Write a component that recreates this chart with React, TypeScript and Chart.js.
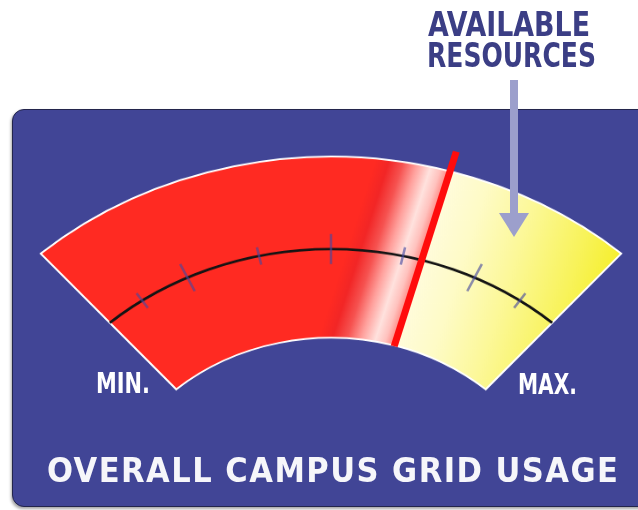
import React, { useEffect, useRef } from 'react';
import { Chart, registerables } from 'chart.js';

Chart.register(...registerables);

// ---- data ----
const categories = ['Used', 'Available'];
const usageValues = [69, 31];
const tickValues = [8.5, 19.3, 35, 50, 65, 80.7, 91.5];
const majorTicks = [false, true, false, true, false, true, false];
const minLabel = 'MIN.';
const maxLabel = 'MAX.';
const titleText = 'OVERALL CAMPUS GRID USAGE';
const calloutLines = ['AVAILABLE', 'RESOURCES'];

// ---- style constants ----
const Y_SCALE = 0.882;
const HALF_ANGLE = 41.4;
const CANVAS_W = 638;
const CANVAS_H = 324;
const CANVAS_TOP = 130;
const BOX_BLUE = '#414596';

function geom(chart: any) {
  const ca = chart.chartArea;
  const ctrl: any = chart.getDatasetMeta(0).controller;
  if (!ca || !ctrl || !isFinite(ctrl.outerRadius) || !isFinite(ctrl.offsetY)) return null;
  const cx = (ca.left + ca.right) / 2 + ctrl.offsetX;
  const cy = (ca.top + ca.bottom) / 2 + ctrl.offsetY;
  const R = ctrl.outerRadius;
  const r = ctrl.innerRadius;
  const a0 = ((-HALF_ANGLE - 90) * Math.PI) / 180;
  const a1 = ((HALF_ANGLE - 90) * Math.PI) / 180;
  const total = usageValues.reduce((s, v) => s + v, 0);
  const angleOf = (v: number) => a0 + (v / total) * (a1 - a0);
  const needle = angleOf(usageValues[0]);
  return { cx, cy, R, r, a0, a1, angleOf, needle };
}

function fillFor(context: any) {
  const chart = context.chart;
  const idx = context.dataIndex;
  const g = geom(chart);
  if (!g) return idx === 0 ? '#ff2a22' : '#fbf7a0';
  const c = chart.ctx as CanvasRenderingContext2D;
  const a = g.needle;
  const ux = -Math.sin(a);
  const uy = Math.cos(a);
  const rm = (g.R + g.r) / 2;
  const mx = g.cx + rm * Math.cos(a);
  const my = g.cy + rm * Math.sin(a);
  if (idx === 0) {
    const grad = c.createLinearGradient(mx - 90 * ux, my - 90 * uy, mx + 5 * ux, my + 5 * uy);
    grad.addColorStop(0, '#ff2a22');
    grad.addColorStop(0.158, '#ff2a22');
    grad.addColorStop(0.295, '#f22626');
    grad.addColorStop(0.442, '#f65250');
    grad.addColorStop(0.589, '#ffa09c');
    grad.addColorStop(0.737, '#ffe2de');
    grad.addColorStop(0.842, '#ffc2be');
    grad.addColorStop(0.947, '#ff7e78');
    grad.addColorStop(1, '#ff6e68');
    return grad;
  }
  const grad = c.createLinearGradient(mx, my, mx + 200 * ux, my + 200 * uy);
  grad.addColorStop(0, '#fffcdc');
  grad.addColorStop(0.2, '#fefbc6');
  grad.addColorStop(0.45, '#fcf898');
  grad.addColorStop(0.75, '#f8f35a');
  grad.addColorStop(1, '#f5ee22');
  return grad;
}

const gaugeMarks = {
  id: 'gaugeMarks',
  afterDatasetsDraw(chart: any) {
    const g = geom(chart);
    if (!g) return;
    const c = chart.ctx as CanvasRenderingContext2D;
    c.save();
    const rs = g.r + (g.R - g.r) * 0.49;
    // scale arc
    c.beginPath();
    c.arc(g.cx, g.cy, rs, g.a0, g.a1);
    c.strokeStyle = '#141414';
    c.lineWidth = 2.8;
    c.stroke();
    // ticks
    tickValues.forEach((v, i) => {
      const a = g.angleOf(v);
      const half = majorTicks[i] ? 17 : 10;
      c.beginPath();
      c.moveTo(g.cx + (rs - half) * Math.cos(a), g.cy + (rs - half) * Math.sin(a));
      c.lineTo(g.cx + (rs + half) * Math.cos(a), g.cy + (rs + half) * Math.sin(a));
      c.strokeStyle = 'rgba(70,72,160,0.62)';
      c.lineWidth = 2.5;
      c.stroke();
    });
    // needle
    const a = g.needle;
    c.beginPath();
    c.moveTo(g.cx + (g.r - 1) * Math.cos(a), g.cy + (g.r - 1) * Math.sin(a));
    c.lineTo(g.cx + (g.R + 23) * Math.cos(a), g.cy + (g.R + 23) * Math.sin(a));
    c.strokeStyle = '#ff0c0c';
    c.lineWidth = 7;
    c.lineCap = 'butt';
    c.stroke();
    c.restore();
  },
};

export default function App() {
  const canvasRef = useRef<HTMLCanvasElement | null>(null);

  useEffect(() => {
    if (!canvasRef.current) return;
    const chart = new Chart(canvasRef.current, {
      type: 'doughnut',
      data: {
        labels: categories,
        datasets: [
          {
            data: usageValues,
            backgroundColor: fillFor as any,
            borderColor: '#ffffff',
            borderWidth: 2,
            borderJoinStyle: 'miter',
          } as any,
        ],
      },
      options: {
        responsive: false,
        maintainAspectRatio: false,
        animation: false,
        events: [],
        rotation: -HALF_ANGLE,
        circumference: HALF_ANGLE * 2,
        radius: 439,
        cutout: '53.3%',
        layout: { padding: { left: 24, right: 0, top: 0, bottom: 0 } },
        plugins: {
          legend: { display: false },
          tooltip: { enabled: false },
          title: { display: false },
        },
      } as any,
      plugins: [gaugeMarks],
    });
    return () => chart.destroy();
  }, []);

  const font = "'DejaVu Sans Condensed', 'DejaVu Sans', 'Liberation Sans Narrow', sans-serif";

  return (
    <div
      style={{
        position: 'absolute',
        left: 0,
        top: 0,
        width: 638,
        height: 510,
        overflow: 'hidden',
        background: '#ffffff',
      }}
    >
      <div
        style={{
          position: 'absolute',
          left: 12,
          top: 109,
          width: 680,
          height: 396,
          background: BOX_BLUE,
          border: '1.5px solid #23254c',
          borderRadius: 12,
          boxShadow: '-1px 2px 3px rgba(0,0,0,0.35)',
        }}
      />
      <canvas
        ref={canvasRef}
        width={CANVAS_W}
        height={CANVAS_H}
        style={{
          position: 'absolute',
          left: 0,
          top: CANVAS_TOP,
          width: CANVAS_W + 'px',
          height: CANVAS_H * Y_SCALE + 'px',
        }}
      />
      <svg
        width={638}
        height={510}
        style={{ position: 'absolute', left: 0, top: 0, pointerEvents: 'none' }}
      >
        <rect x={510} y={80} width={8} height={134} fill="#9c9fcc" />
        <polygon points="499,213 529,213 514,237" fill="#9c9fcc" />
        <text x={428} y={36} fontFamily={font} fontWeight="bold" fontSize={33} fill="#3b3e85"
          textLength={162} lengthAdjust="spacingAndGlyphs">{calloutLines[0]}</text>
        <text x={427} y={67} fontFamily={font} fontWeight="bold" fontSize={33} fill="#3b3e85"
          textLength={169} lengthAdjust="spacingAndGlyphs">{calloutLines[1]}</text>
        <text x={96} y={393} fontFamily={font} fontWeight="bold" fontSize={28} fill="#ffffff"
          textLength={54} lengthAdjust="spacingAndGlyphs">{minLabel}</text>
        <text x={518} y={394} fontFamily={font} fontWeight="bold" fontSize={28} fill="#ffffff"
          textLength={59} lengthAdjust="spacingAndGlyphs">{maxLabel}</text>
        <text x={47} y={482} fontFamily={font} fontWeight="bold" fontSize={34} fill="#f6f6fa"
          textLength={571} lengthAdjust="spacing">{titleText}</text>
      </svg>
    </div>
  );
}
